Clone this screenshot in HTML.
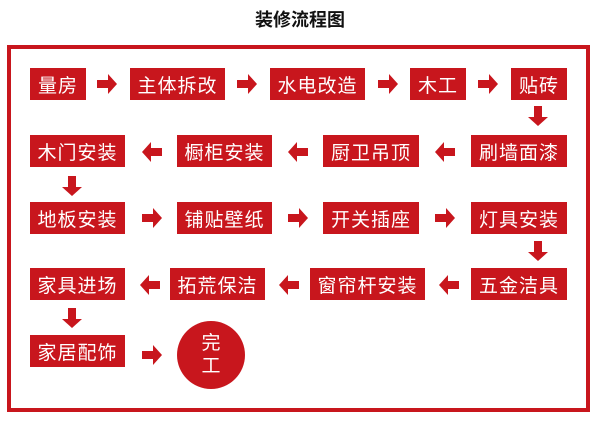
<!DOCTYPE html>
<html><head><meta charset="utf-8"><style>
body{margin:0;width:600px;height:423px;background:#fff;position:relative;overflow:hidden;font-family:"Liberation Sans","Noto Sans CJK SC",sans-serif}
.t{position:absolute;left:0;width:600px;top:6px;text-align:center;font-size:18px;font-weight:bold;color:#111}
.frame{position:absolute;left:7px;top:45px;width:575px;height:359px;border:4px solid #c8161d}
.b{position:absolute;background:#c8161d;color:#fff;font-size:19px;display:flex;align-items:center;justify-content:center;height:32px;letter-spacing:1px}
.c{position:absolute;left:177px;top:321px;width:68px;height:68px;border-radius:50%;background:#c8161d;color:#fff;font-size:19px;line-height:23px;text-align:center;display:flex;align-items:center;justify-content:center}
svg{position:absolute;left:0;top:0}
</style></head><body>
<div class="t">装修流程图</div>
<div class="frame"></div>
<div class="b" style="left:30px;top:68px;width:56px">量房</div>
<div class="b" style="left:130px;top:68px;width:95px">主体拆改</div>
<div class="b" style="left:270px;top:68px;width:95px">水电改造</div>
<div class="b" style="left:410px;top:68px;width:56px">木工</div>
<div class="b" style="left:511px;top:68px;width:56px">贴砖</div>
<div class="b" style="left:30px;top:135px;width:95px">木门安装</div>
<div class="b" style="left:177px;top:135px;width:95px">橱柜安装</div>
<div class="b" style="left:323px;top:135px;width:96px">厨卫吊顶</div>
<div class="b" style="left:471px;top:135px;width:96px">刷墙面漆</div>
<div class="b" style="left:30px;top:202px;width:95px">地板安装</div>
<div class="b" style="left:177px;top:202px;width:95px">铺贴壁纸</div>
<div class="b" style="left:323px;top:202px;width:96px">开关插座</div>
<div class="b" style="left:471px;top:202px;width:96px">灯具安装</div>
<div class="b" style="left:30px;top:268px;width:95px">家具进场</div>
<div class="b" style="left:170px;top:268px;width:95px">拓荒保洁</div>
<div class="b" style="left:310px;top:268px;width:115px">窗帘杆安装</div>
<div class="b" style="left:471px;top:268px;width:96px">五金洁具</div>
<div class="b" style="left:30px;top:335px;width:95px">家居配饰</div>
<div class="c">完<br>工</div>
<svg width="600" height="423" fill="#c8161d">
<defs>
<polygon id="r" points="-10,-4 1,-4 1,-10 10,0 1,10 1,4 -10,4"/>
</defs>
<use href="#r" x="107" y="84"/>
<use href="#r" x="247" y="84"/>
<use href="#r" x="388" y="84"/>
<use href="#r" x="488" y="84"/>
<use href="#r" transform="translate(538,116) rotate(90)"/>
<use href="#r" transform="translate(445,152) rotate(180)"/>
<use href="#r" transform="translate(298,152) rotate(180)"/>
<use href="#r" transform="translate(152,152) rotate(180)"/>
<use href="#r" transform="translate(72,186) rotate(90)"/>
<use href="#r" x="152" y="218"/>
<use href="#r" x="298" y="218"/>
<use href="#r" x="445" y="218"/>
<use href="#r" transform="translate(538,251) rotate(90)"/>
<use href="#r" transform="translate(449,285) rotate(180)"/>
<use href="#r" transform="translate(289,285) rotate(180)"/>
<use href="#r" transform="translate(150,285) rotate(180)"/>
<use href="#r" transform="translate(72,318) rotate(90)"/>
<use href="#r" x="152" y="355"/>
</svg>
</body></html>
